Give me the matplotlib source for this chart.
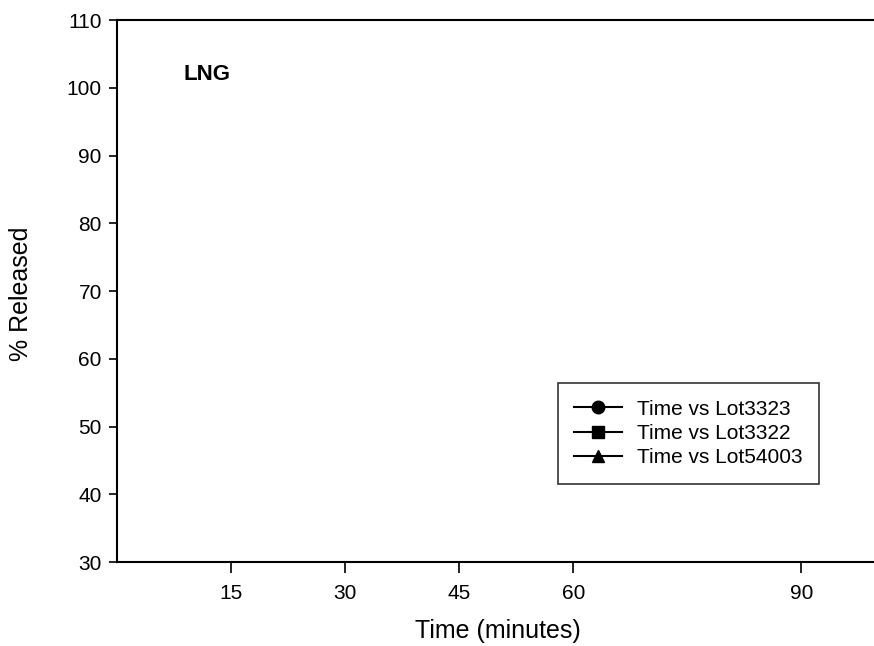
import matplotlib
matplotlib.use("Agg")
import matplotlib.pyplot as plt

# ---------------------------
# Data (no points are visible in the source chart)
# ---------------------------
series_names = ["Time vs Lot3323", "Time vs Lot3322", "Time vs Lot54003"]
series_markers = ["o", "s", "^"]
time_min = []
lot3323 = []
lot3322 = []
lot54003 = []

x_ticks = [15, 30, 45, 60, 90]
y_ticks = [30, 40, 50, 60, 70, 80, 90, 100, 110]

plt.rcParams["font.family"] = ["Liberation Sans", "DejaVu Sans"]

fig = plt.figure(figsize=(8.74, 6.46), dpi=100)
ax = fig.add_axes([0.134, 0.130, 0.870, 0.839])

for name, marker, values in zip(series_names, series_markers, [lot3323, lot3322, lot54003]):
    ax.plot(time_min, values, color="black", marker=marker, markersize=9,
            linewidth=1.5, label=name)

ax.set_xlim(0, 100)
ax.set_ylim(30, 110)
ax.set_xticks(x_ticks)
ax.set_yticks(y_ticks)
ax.tick_params(axis="both", direction="out", width=1.2,
               labelsize=15, colors="black")
ax.tick_params(axis="y", length=6, pad=5)
ax.tick_params(axis="x", length=8, pad=8)

for side in ["left", "top", "bottom"]:
    ax.spines[side].set_linewidth(1.5)
ax.spines["right"].set_visible(False)

ax.set_xlabel("Time (minutes)", fontsize=18)
ax.xaxis.set_label_coords(0.501, -0.105)
ax.set_ylabel("% Released", fontsize=18)
ax.yaxis.set_label_coords(-0.1105, 0.495)

ax.text(0.087, 0.90, "LNG", transform=ax.transAxes, fontsize=16,
        fontweight="bold", va="center", ha="left")

leg = ax.legend(loc="upper left", bbox_to_anchor=(0.638, 0.407),
                bbox_transform=fig.transFigure,
                fontsize=15, frameon=True, fancybox=False, borderpad=0.8,
                handlelength=2.3, handletextpad=0.7, labelspacing=0.25,
                borderaxespad=0)
leg.get_frame().set_edgecolor("black")
leg.get_frame().set_linewidth(1.2)

fig.savefig("out.png", dpi=100)
